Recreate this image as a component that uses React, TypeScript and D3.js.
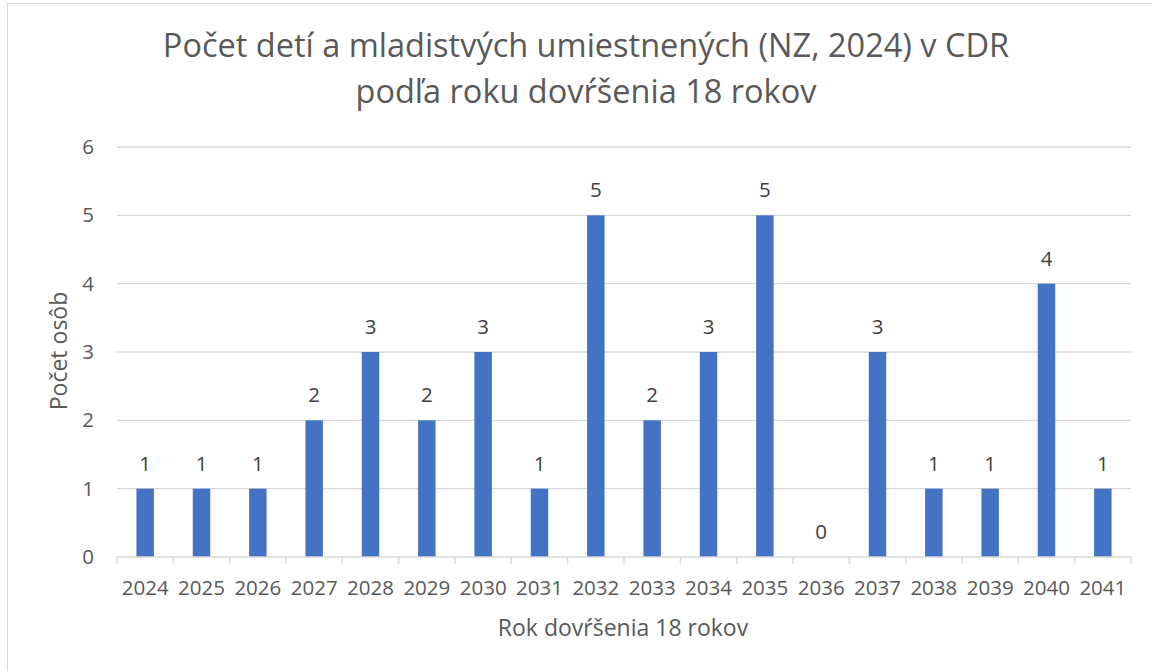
import React, { useEffect, useRef } from "react";
import * as d3 from "d3";

const years = ["2024", "2025", "2026", "2027", "2028", "2029", "2030", "2031", "2032", "2033", "2034", "2035", "2036", "2037", "2038", "2039", "2040", "2041"];
const counts = [1, 1, 1, 2, 3, 2, 3, 1, 5, 2, 3, 5, 0, 3, 1, 1, 4, 1];
const yTicks = [0, 1, 2, 3, 4, 5, 6];
const titleLines = ["Počet detí a mladistvých umiestnených (NZ, 2024) v CDR", "podľa roku dovŕšenia 18 rokov"];

const W = 1152;
const H = 671;
const FONT = "'Open Sans', sans-serif";

const App = () => {
  const ref = useRef<SVGSVGElement>(null);

  useEffect(() => {
    const svg = d3.select(ref.current);
    svg.selectAll("*").remove();

    const left = 117;
    const right = 1131;
    const top = 147;
    const bottom = 557;

    const x = d3.scaleBand().domain(years).range([left, right]).paddingInner(0.69).paddingOuter(0.345);
    const y = d3.scaleLinear().domain([0, 6]).range([bottom, top]);

    // outer frame
    svg.append("rect")
      .attr("x", 7.5).attr("y", 3.5)
      .attr("width", W + 20).attr("height", H + 20)
      .attr("fill", "white").attr("stroke", "#d9d9d9");

    // title
    svg.append("g").selectAll("text").data(titleLines).join("text")
      .attr("x", 586).attr("y", (d, i) => 57 + i * 46)
      .attr("text-anchor", "middle")
      .attr("font-family", FONT).attr("font-size", 32.5)
      .attr("fill", "#595959")
      .text((d) => d);

    // gridlines
    svg.append("g").selectAll("line").data(yTicks.filter((t) => t > 0)).join("line")
      .attr("x1", left).attr("x2", right)
      .attr("y1", (d) => y(d)).attr("y2", (d) => y(d))
      .attr("stroke", "#d9d9d9").attr("stroke-width", 1.3);

    // y tick labels
    svg.append("g").selectAll("text").data(yTicks).join("text")
      .attr("x", 94).attr("y", (d) => y(d) + 7)
      .attr("text-anchor", "end")
      .attr("font-family", FONT).attr("font-size", 20.5)
      .attr("fill", "#595959")
      .text((d) => d);

    // bars
    svg.append("g").selectAll("rect").data(counts).join("rect")
      .attr("x", (d, i) => x(years[i])!)
      .attr("y", (d) => y(d))
      .attr("width", x.bandwidth())
      .attr("height", (d) => bottom - y(d))
      .attr("fill", "#4472c4");

    // x axis
    const step = x.step();
    svg.append("line")
      .attr("x1", left).attr("x2", right)
      .attr("y1", bottom).attr("y2", bottom)
      .attr("stroke", "#d9d9d9").attr("stroke-width", 1.3);
    svg.append("g").selectAll("line").data(d3.range(years.length + 1)).join("line")
      .attr("x1", (d) => left + d * step).attr("x2", (d) => left + d * step)
      .attr("y1", bottom).attr("y2", bottom + 7)
      .attr("stroke", "#d9d9d9").attr("stroke-width", 1.3);

    svg.append("g").selectAll("text").data(years).join("text")
      .attr("x", (d) => x(d)! + x.bandwidth() / 2)
      .attr("y", 595)
      .attr("text-anchor", "middle")
      .attr("font-family", FONT).attr("font-size", 20.5)
      .attr("fill", "#595959")
      .text((d) => d);

    // data labels
    svg.append("g").selectAll("text").data(counts).join("text")
      .attr("x", (d, i) => x(years[i])! + x.bandwidth() / 2)
      .attr("y", (d) => y(d) - 18)
      .attr("text-anchor", "middle")
      .attr("font-family", FONT).attr("font-size", 20.5)
      .attr("fill", "#404040")
      .text((d) => d);

    // axis titles
    svg.append("text")
      .attr("x", 623).attr("y", 636)
      .attr("text-anchor", "middle")
      .attr("font-family", FONT).attr("font-size", 23)
      .attr("fill", "#595959")
      .text("Rok dovŕšenia 18 rokov");

    svg.append("text")
      .attr("transform", `translate(67,351) rotate(-90)`)
      .attr("text-anchor", "middle")
      .attr("font-family", FONT).attr("font-size", 23)
      .attr("fill", "#595959")
      .text("Počet osôb");
  }, []);

  return (
    <svg ref={ref} width={W} height={H} style={{ position: "absolute", left: 0, top: 0, background: "white" }} />
  );
};

export default App;
